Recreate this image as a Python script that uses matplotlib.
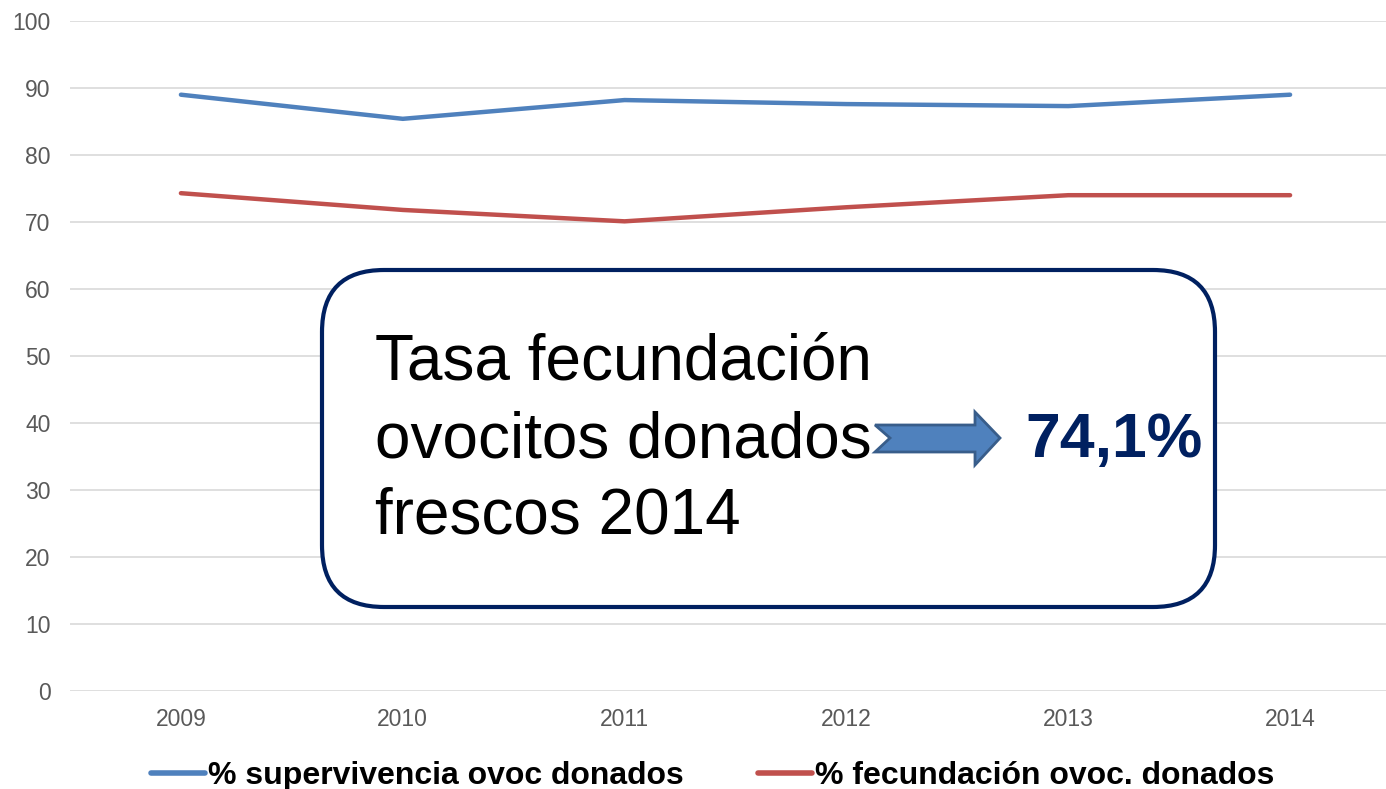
import numpy as np
import matplotlib.pyplot as plt
from matplotlib.patches import FancyBboxPatch, Polygon
from matplotlib.transforms import IdentityTransform

plt.rcParams['font.family'] = ['Liberation Sans', 'DejaVu Sans']

years = ['2009', '2010', '2011', '2012', '2013', '2014']
supervivencia = [89.0, 85.4, 88.2, 87.6, 87.3, 89.0]
fecundacion = [74.3, 71.8, 70.1, 72.2, 74.0, 74.0]
lab_sup = '% supervivencia ovoc donados'
lab_fec = '% fecundación ovoc. donados'
box_lines = ['Tasa fecundación', 'ovocitos donados', 'frescos 2014']
box_value = '74,1%'

W, H = 1386, 789
fig = plt.figure(figsize=(W / 100, H / 100), dpi=100)
ax = fig.add_axes([70 / W, 1 - 691 / H, (1401 - 70) / W, (691 - 21) / H])

x = np.arange(len(years))
ax.plot(x, supervivencia, color='#4f81bd', linewidth=3.2, solid_capstyle='round', label=lab_sup)
ax.plot(x, fecundacion, color='#c0504d', linewidth=3.2, solid_capstyle='round', label=lab_fec)

ax.set_xlim(-0.5, len(years) - 0.5)
ax.set_ylim(0, 100)
ax.set_yticks(np.arange(0, 101, 10))
ax.set_xticks(x)
ax.set_xticklabels(years)
ax.grid(axis='y', color='#d9d9d9', linewidth=1.2)
ax.set_axisbelow(True)
for s in ax.spines.values():
    s.set_visible(False)
ax.tick_params(length=0, labelsize=16.5, labelcolor='#595959', pad=14)
ax.tick_params(axis='x', pad=12)

leg = fig.legend(loc='center left', bbox_to_anchor=(151 / W, 13 / H), ncol=2, frameon=False,
                 handlelength=1.7, handletextpad=0.1, columnspacing=2.3,
                 borderpad=0, borderaxespad=0,
                 prop={'weight': 'bold', 'size': 23})
for line in leg.get_lines():
    line.set_linewidth(4)

# rounded text box, in output pixels
tr = IdentityTransform()
box = FancyBboxPatch((322, H - 607), 1215 - 322, 607 - 270,
                     boxstyle='round,pad=0,rounding_size=62', transform=tr,
                     facecolor='white', edgecolor='#002060', linewidth=3, zorder=5)
fig.patches.append(box)

for line, base in zip(box_lines, [380, 457, 533]):
    fig.text(375, H - base, line, transform=tr, fontsize=46, color='black',
             va='baseline', ha='left', zorder=6)

fig.text(1025, H - 457, box_value, transform=tr, fontsize=45, fontweight='bold',
         color='#002060', va='baseline', ha='left', zorder=6)

arrow = [(875, 425), (975, 425), (975, 412), (1000, 438), (975, 465), (975, 452),
         (875, 452), (890, 438)]
arrow = [(px, H - py) for px, py in arrow]
fig.patches.append(Polygon(arrow, closed=True, transform=tr, facecolor='#4f81bd',
                           edgecolor='#385d8a', linewidth=2, zorder=6))

fig.savefig('out.png', dpi=100)
